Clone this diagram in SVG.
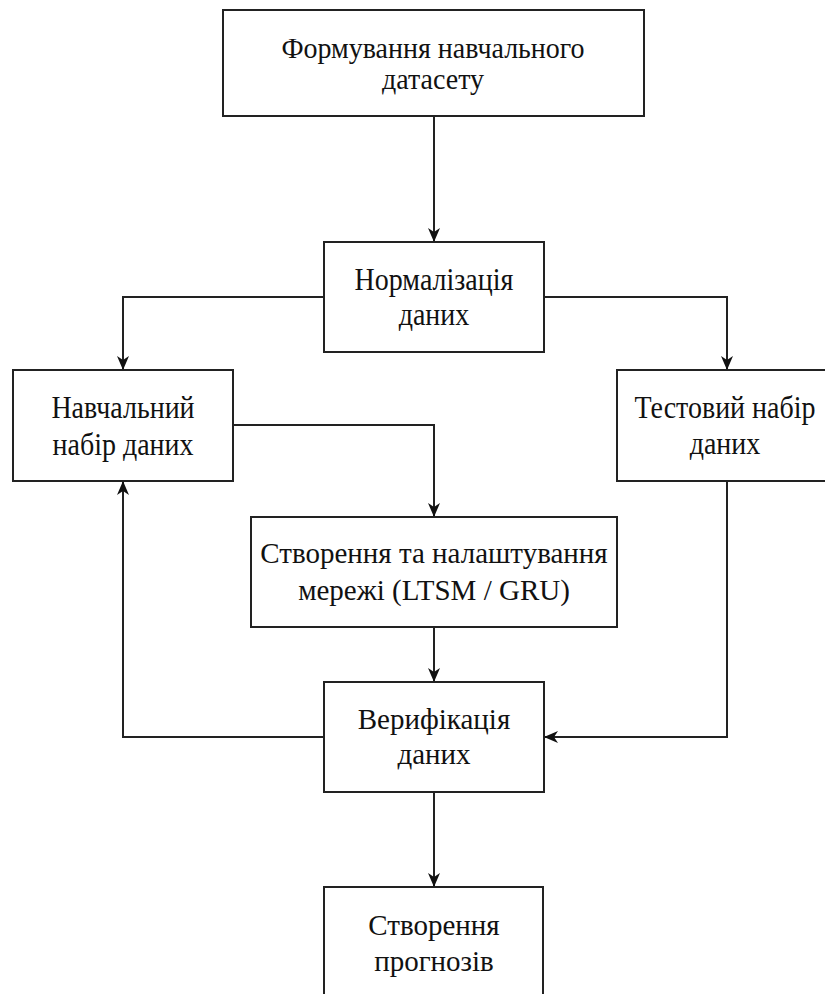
<svg xmlns="http://www.w3.org/2000/svg" width="825" height="994" viewBox="0 0 825 994">
  <style>
    .box { fill: #ffffff; stroke: #222222; stroke-width: 2; }
    .edge { fill: none; stroke: #222222; stroke-width: 2; }
    .label { font-family: "Liberation Serif", "Times New Roman", serif; font-size: 28px; fill: #111111; text-anchor: middle; }
    .big { font-size: 29px; }
  </style>
  <defs>
    <marker id="arrow" viewBox="0 0 14 12" refX="13" refY="6" markerWidth="14" markerHeight="12" markerUnits="userSpaceOnUse" orient="auto">
      <path d="M0,0 L14,6 L0,12 L4,6 Z" fill="#111111"/>
    </marker>
  </defs>
  <rect width="825" height="994" fill="#ffffff"/>

  <g id="connectors">
    <path class="edge" d="M434,116 L434,241" marker-end="url(#arrow)"/>
    <path class="edge" d="M324,297 L123,297 L123,369" marker-end="url(#arrow)"/>
    <path class="edge" d="M544,297 L727,297 L727,369" marker-end="url(#arrow)"/>
    <path class="edge" d="M233,425 L434,425 L434,516" marker-end="url(#arrow)"/>
    <path class="edge" d="M434,627 L434,681" marker-end="url(#arrow)"/>
    <path class="edge" d="M324,737 L123,737 L123,482" marker-end="url(#arrow)"/>
    <path class="edge" d="M727,481 L727,737 L545,737" marker-end="url(#arrow)"/>
    <path class="edge" d="M434,792 L434,886" marker-end="url(#arrow)"/>
  </g>

  <g id="dataset">
    <rect class="box" x="223" y="10" width="421" height="106"/>
    <text class="label" transform="translate(433,58) scale(1,1.08)">Формування навчального</text>
    <text class="label" transform="translate(433,89) scale(1,1.08)">датасету</text>
  </g>

  <g id="normalize">
    <rect class="box" x="324" y="242" width="220" height="110"/>
    <text class="label" transform="translate(434,290) scale(1,1.1)">Нормалізація</text>
    <text class="label" transform="translate(434,325) scale(1,1.1)">даних</text>
  </g>

  <g id="train-set">
    <rect class="box" x="13" y="370" width="220" height="111"/>
    <text class="label" transform="translate(123,418) scale(1,1.1)">Навчальний</text>
    <text class="label" transform="translate(123,455) scale(1,1.1)">набір даних</text>
  </g>

  <g id="test-set">
    <rect class="box" x="617" y="370" width="220" height="111"/>
    <text class="label" transform="translate(725,418) scale(1,1.1)">Тестовий набір</text>
    <text class="label" transform="translate(725,454) scale(1,1.1)">даних</text>
  </g>

  <g id="model">
    <rect class="box" x="251" y="517" width="366" height="110"/>
    <text class="label big" x="434" y="563">Створення та налаштування</text>
    <text class="label big" x="434" y="600">мережі (LTSM / GRU)</text>
  </g>

  <g id="verify">
    <rect class="box" x="324" y="682" width="220" height="110"/>
    <text class="label big" x="434" y="729">Верифікація</text>
    <text class="label big" x="434" y="764">даних</text>
  </g>

  <g id="forecast">
    <rect class="box" x="324" y="887" width="219" height="112"/>
    <text class="label big" x="434" y="935">Створення</text>
    <text class="label big" x="434" y="971">прогнозів</text>
  </g>
</svg>
